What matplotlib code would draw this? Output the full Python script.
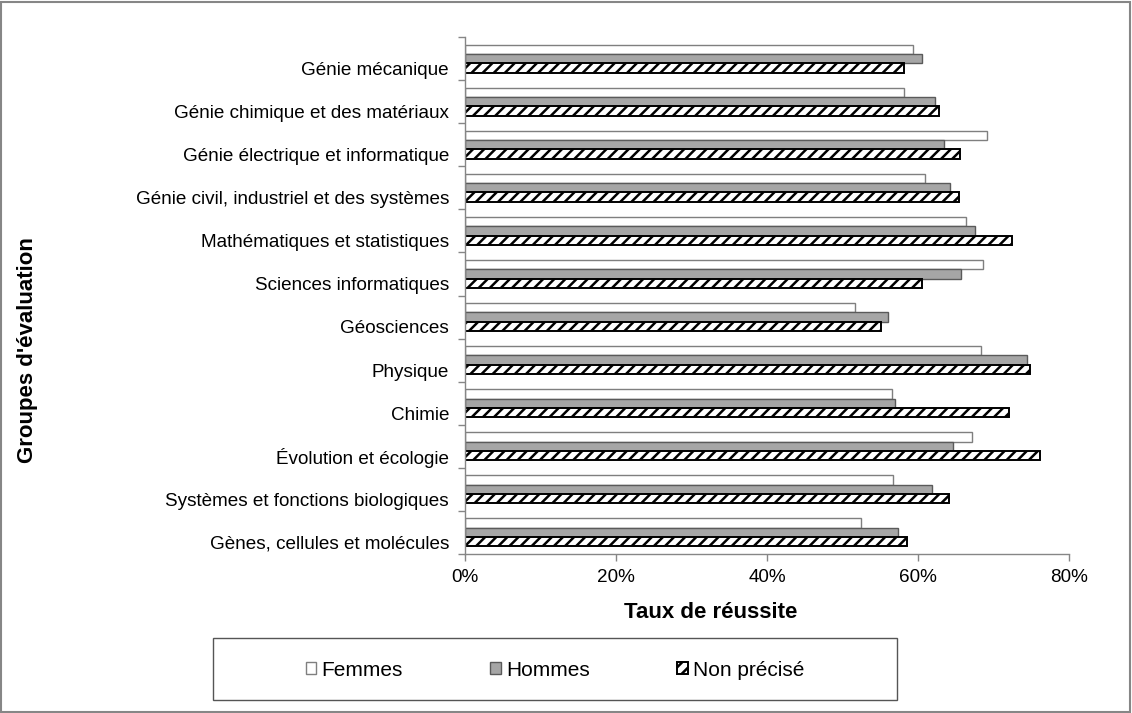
import numpy as np
import matplotlib
matplotlib.use("Agg")
import matplotlib.pyplot as plt
from matplotlib.patches import Rectangle
from matplotlib.ticker import FixedLocator, PercentFormatter

plt.rcParams["font.family"] = ["Liberation Sans", "DejaVu Sans"]
plt.rcParams["hatch.linewidth"] = 1.8

# categories, top to bottom
categories = [
    "Génie mécanique",
    "Génie chimique et des matériaux",
    "Génie électrique et informatique",
    "Génie civil, industriel et des systèmes",
    "Mathématiques et statistiques",
    "Sciences informatiques",
    "Géosciences",
    "Physique",
    "Chimie",
    "Évolution et écologie",
    "Systèmes et fonctions biologiques",
    "Gènes, cellules et molécules",
]
series_names = ["Femmes", "Hommes", "Non précisé"]

# taux de réussite (fractions)
femmes = [0.593, 0.581, 0.692, 0.609, 0.664, 0.686, 0.517, 0.683, 0.566, 0.672, 0.567, 0.524]
hommes = [0.605, 0.622, 0.634, 0.643, 0.675, 0.657, 0.560, 0.745, 0.570, 0.647, 0.619, 0.574]
non_precise = [0.581, 0.628, 0.656, 0.654, 0.724, 0.605, 0.551, 0.749, 0.720, 0.762, 0.641, 0.585]

xticks = [0.0, 0.2, 0.4, 0.6, 0.8]

W, H = 1132, 713
fig = plt.figure(figsize=(W / 100, H / 100), dpi=100)
ax = fig.add_axes([465 / W, 1 - 554 / H, (1069 - 465) / W, (554 - 37) / H])

y = np.arange(len(categories))
h = 0.216
b1 = ax.barh(y - h, femmes, height=h, color="white", edgecolor="#7f7f7f", linewidth=1.0,
             label=series_names[0])
b2 = ax.barh(y, hommes, height=h, color="#a6a6a6", edgecolor="#5a5a5a", linewidth=1.0,
             label=series_names[1])
b3 = ax.barh(y + h, non_precise, height=h, color="white", edgecolor="black", linewidth=1.4,
             hatch="///", label=series_names[2])

ax.set_ylim(len(categories) - 0.5, -0.5)
ax.set_xlim(0, 0.8)
# labels sit a little below the group centre, as in the original
ax.set_yticks(y + 0.23)
ax.set_yticklabels(categories, fontsize=13.6)
ax.yaxis.set_minor_locator(FixedLocator(np.arange(len(categories) + 1) - 0.5))
ax.tick_params(axis="y", which="major", length=0, pad=11.5)
ax.tick_params(axis="y", which="minor", length=5, color="#868686", width=1)
ax.set_xticks(xticks)
ax.xaxis.set_major_formatter(PercentFormatter(1.0, decimals=0))
ax.tick_params(axis="x", length=5, color="#868686", width=1, labelsize=13.6, pad=6)

for s in ["top", "right"]:
    ax.spines[s].set_visible(False)
for s in ["left", "bottom"]:
    ax.spines[s].set_color("#868686")
    ax.spines[s].set_linewidth(1)

fig.text(711 / W, 1 - 612 / H, "Taux de réussite", fontsize=16, fontweight="bold",
         ha="center", va="center")
fig.text(28 / W, 1 - 350 / H, "Groupes d'évaluation", fontsize=16, fontweight="bold",
         ha="center", va="center", rotation=90)

# legend box
fig.patches.append(Rectangle((213 / W, 1 - 700 / H), (897 - 213) / W, (700 - 638) / H,
                             transform=fig.transFigure, fill=False, edgecolor="#555555",
                             linewidth=1.0))
fig.legend(handles=[b1, b2, b3], loc="center", bbox_to_anchor=(555 / W, 1 - 670 / H),
           ncol=3, frameon=False, fontsize=15, handlelength=0.5, handleheight=0.5,
           handletextpad=0.25, columnspacing=4.2)

# outer border
fig.patches.append(Rectangle((0.001, 0.0015), 0.997, 0.996, transform=fig.transFigure,
                             fill=False, edgecolor="#868686", linewidth=1.5))

fig.savefig("out.png", dpi=100)
